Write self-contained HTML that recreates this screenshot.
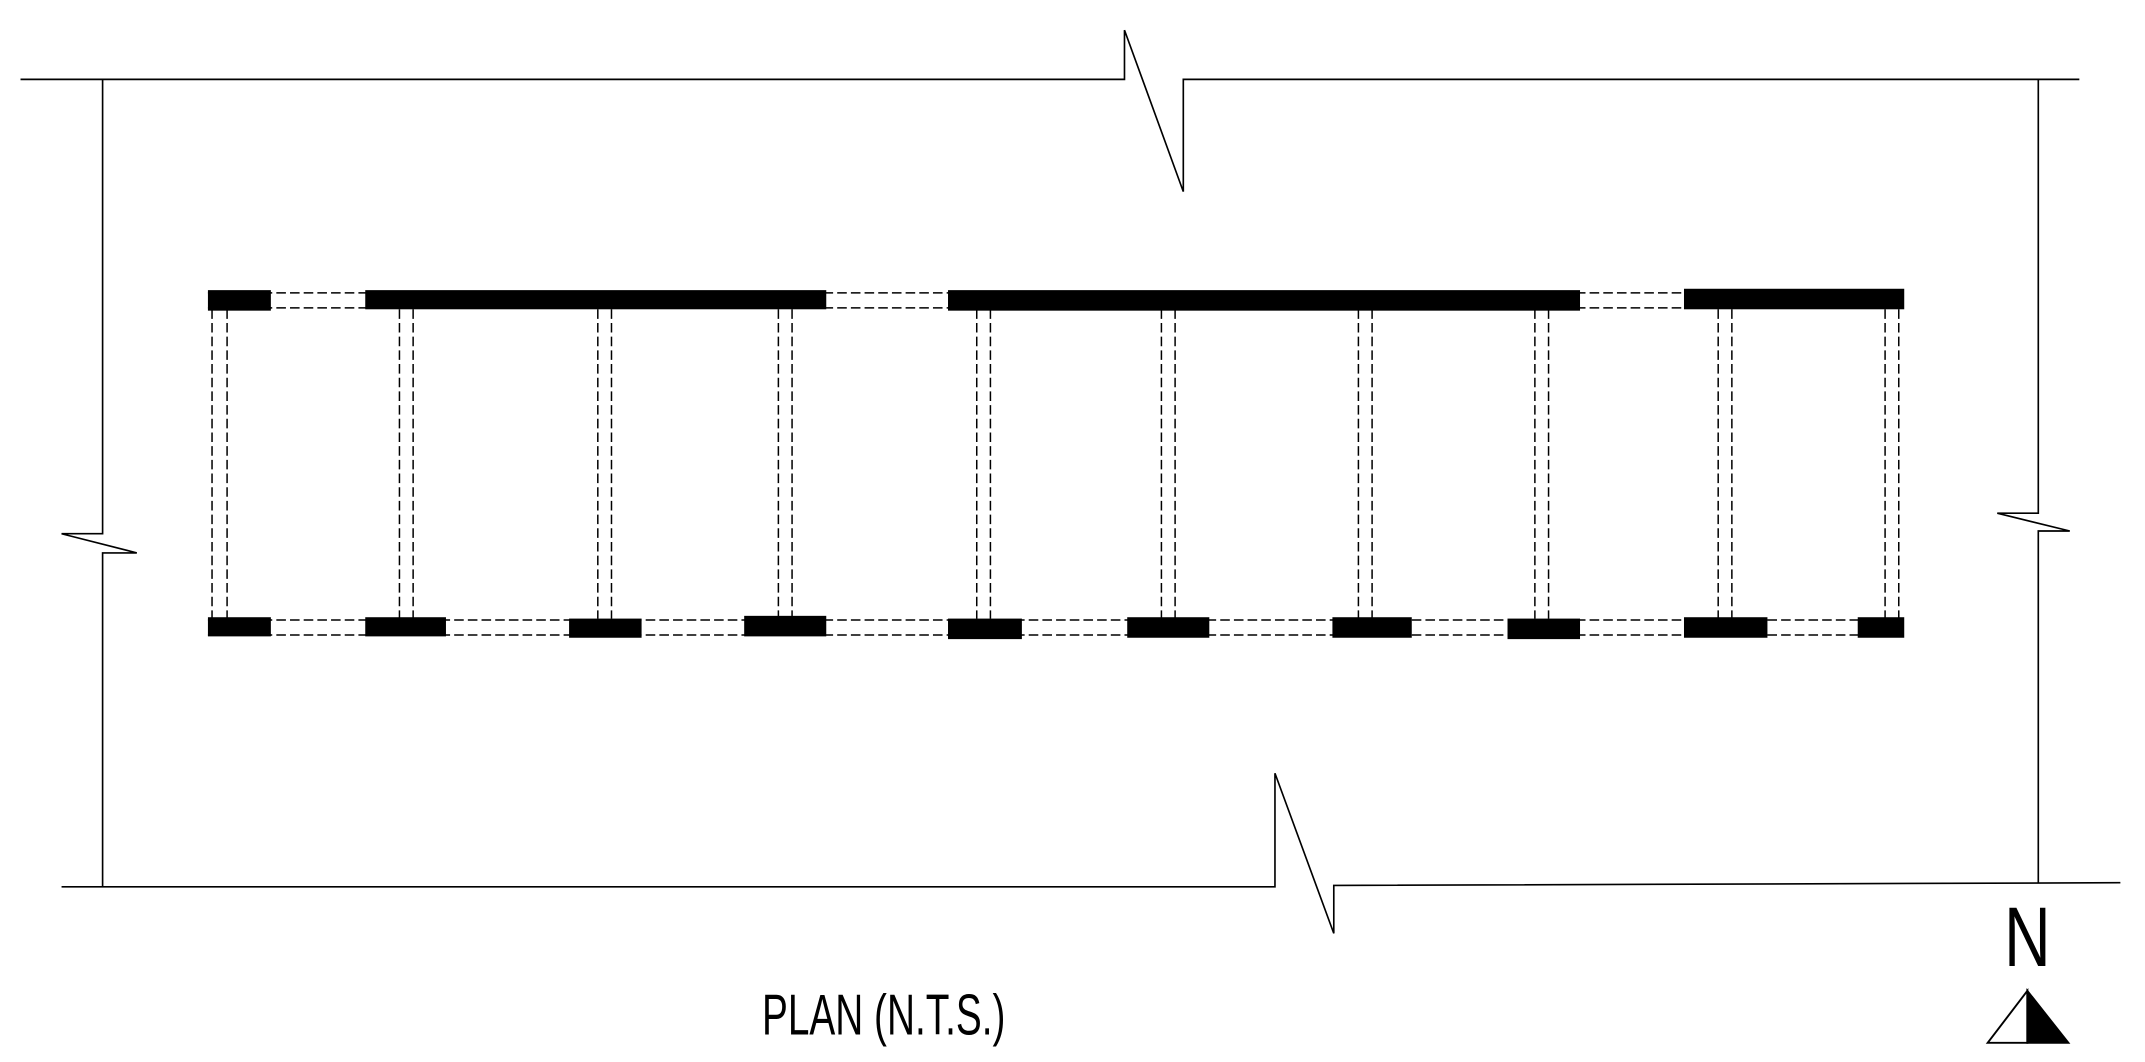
<!DOCTYPE html>
<html><head><meta charset="utf-8"><style>html,body{margin:0;padding:0;background:#fff;}svg{display:block;}</style></head>
<body>
<svg width="2145" height="1062" viewBox="0 0 1568 776" preserveAspectRatio="none" xmlns="http://www.w3.org/2000/svg">
<g fill="none" stroke="#000" stroke-width="1.2">
<polyline points="15,58 822,58 822,22 865,140 865,58 1520,58"/>
<polyline points="75,58 75,390 45,390 100,404 75,404 75,648"/>
<polyline points="1490,58 1490,375 1460,375 1513,388 1490,388 1490,645"/>
<polyline points="45,648 932,648 932,565 975,682 975,647 1550,645"/>
</g>
<g fill="none" stroke="#000" stroke-width="1.1" stroke-dasharray="7,3">
<line x1="152" y1="214" x2="1392" y2="214"/>
<line x1="152" y1="225" x2="1392" y2="225"/>
<line x1="152" y1="453" x2="1392" y2="453"/>
<line x1="152" y1="464" x2="1392" y2="464"/>
<line x1="155" y1="226" x2="155" y2="452"/><line x1="166" y1="226" x2="166" y2="452"/>
<line x1="292" y1="226" x2="292" y2="452"/><line x1="302" y1="226" x2="302" y2="452"/>
<line x1="437" y1="226" x2="437" y2="452"/><line x1="447" y1="226" x2="447" y2="452"/>
<line x1="569" y1="226" x2="569" y2="452"/><line x1="579" y1="226" x2="579" y2="452"/>
<line x1="714" y1="226" x2="714" y2="452"/><line x1="724" y1="226" x2="724" y2="452"/>
<line x1="849" y1="226" x2="849" y2="452"/><line x1="859" y1="226" x2="859" y2="452"/>
<line x1="993" y1="226" x2="993" y2="452"/><line x1="1003" y1="226" x2="1003" y2="452"/>
<line x1="1122" y1="226" x2="1122" y2="452"/><line x1="1132" y1="226" x2="1132" y2="452"/>
<line x1="1256" y1="226" x2="1256" y2="452"/><line x1="1266" y1="226" x2="1266" y2="452"/>
<line x1="1378" y1="226" x2="1378" y2="452"/><line x1="1388" y1="226" x2="1388" y2="452"/>
</g>
<g fill="#000">
<rect x="152" y="212" width="46" height="15"/>
<rect x="267" y="212" width="337" height="14"/>
<rect x="693" y="212" width="462" height="15"/>
<rect x="1231" y="211" width="161" height="15"/>
<rect x="152" y="451" width="46" height="14"/>
<rect x="267" y="451" width="59" height="14"/>
<rect x="416" y="452" width="53" height="14"/>
<rect x="544" y="450" width="60" height="15"/>
<rect x="693" y="452" width="54" height="15"/>
<rect x="824" y="451" width="60" height="15"/>
<rect x="974" y="451" width="58" height="15"/>
<rect x="1102" y="452" width="53" height="15"/>
<rect x="1231" y="451" width="61" height="15"/>
<rect x="1358" y="451" width="34" height="15"/>
</g>
<text x="557" y="756" font-family="Liberation Sans, sans-serif" font-size="42" textLength="178" lengthAdjust="spacingAndGlyphs">PLAN (N.T.S.)</text>
<text x="1465" y="706" font-family="Liberation Sans, sans-serif" font-size="62" textLength="34" lengthAdjust="spacingAndGlyphs">N</text>
<polygon points="1453,762 1482,724 1482,762" fill="#fff" stroke="#000" stroke-width="1.4"/>
<polygon points="1482,724 1512,762 1482,762" fill="#000" stroke="#000" stroke-width="1.4"/>
</svg>
</body></html>
